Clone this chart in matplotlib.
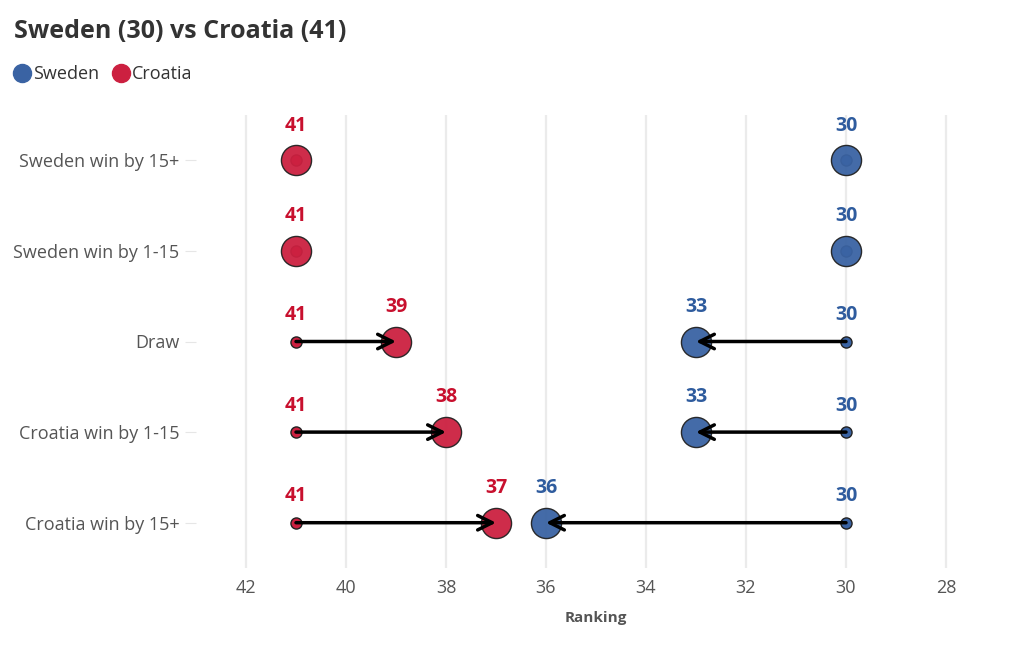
import matplotlib.pyplot as plt
from matplotlib.lines import Line2D

plt.rcParams['font.family'] = ['Open Sans', 'DejaVu Sans']

categories = ["Sweden win by 15+", "Sweden win by 1-15", "Draw",
              "Croatia win by 1-15", "Croatia win by 15+"]
sweden_start = [30, 30, 30, 30, 30]
sweden_end = [30, 30, 33, 33, 36]
croatia_start = [41, 41, 41, 41, 41]
croatia_end = [41, 41, 39, 38, 37]
xticks = [42, 40, 38, 36, 34, 32, 30, 28]

blue = '#2f5c9e'
red = '#c8102e'
blue_fill = '#3a63a3'
red_fill = '#cc2040'
grey = '#555555'

fig = plt.figure(figsize=(10.23, 6.57), dpi=100)
ax = fig.add_axes([196 / 1023, 1 - 568 / 657, 800 / 1023, 453 / 657])

ys = list(range(len(categories)))

for y, s0, s1, c0, c1 in zip(ys, sweden_start, sweden_end, croatia_start, croatia_end):
    for x0, x1, fill, tcol in [(s0, s1, blue_fill, blue), (c0, c1, red_fill, red)]:
        # start dot
        ax.scatter([x0], [y], s=64, color=fill, edgecolor='#222222', linewidth=1, zorder=3)
        # end dot
        ax.scatter([x1], [y], s=470, color=fill, edgecolor='#222222', linewidth=1,
                   zorder=3, alpha=0.95)
        if x0 != x1:
            ax.annotate('', xy=(x1, y), xytext=(x0, y),
                        arrowprops=dict(arrowstyle='->', color='black', lw=2.5,
                                        mutation_scale=26, shrinkA=0, shrinkB=0),
                        zorder=4)
            ax.annotate(str(x0), (x0, y), xytext=(0, 19), textcoords='offset points',
                        ha='center', va='center', color=tcol, fontsize=14,
                        fontweight='bold')
        ax.annotate(str(x1), (x1, y), xytext=(0, 25), textcoords='offset points',
                    ha='center', va='center', color=tcol, fontsize=14, fontweight='bold')

ax.set_xlim(43, 27)
ax.set_ylim(4.5, -0.5)
ax.set_xticks(xticks)
ax.set_xticklabels([str(t) for t in xticks])
ax.set_yticks(ys)
ax.set_yticklabels(categories)
ax.grid(axis='x', color='#ebebeb', linewidth=1.6)
ax.set_axisbelow(True)
for sp in ax.spines.values():
    sp.set_visible(False)
ax.tick_params(axis='x', length=0, labelsize=13, labelcolor=grey, pad=8)
ax.tick_params(axis='y', length=8, color='#e6e6e6', labelsize=13, labelcolor=grey, pad=4)
ax.set_xlabel('Ranking', fontsize=11, fontweight='bold', color=grey, labelpad=10)

fig.text(14 / 1023, 1 - 31 / 657, 'Sweden (30) vs Croatia (41)', fontsize=18,
         fontweight='bold', color='#333333', va='center', ha='left')

handles = [Line2D([], [], marker='o', linestyle='none', markersize=13, color=blue_fill),
           Line2D([], [], marker='o', linestyle='none', markersize=13, color=red_fill)]
fig.legend(handles, ['Sweden', 'Croatia'], loc='center left',
           bbox_to_anchor=(-5 / 1023, 1 - 74 / 657), ncol=2, frameon=False,
           handletextpad=0.0, columnspacing=0.6, fontsize=13, labelcolor='#333333',
           handlelength=1.2)

fig.savefig('out.png', dpi=100)
